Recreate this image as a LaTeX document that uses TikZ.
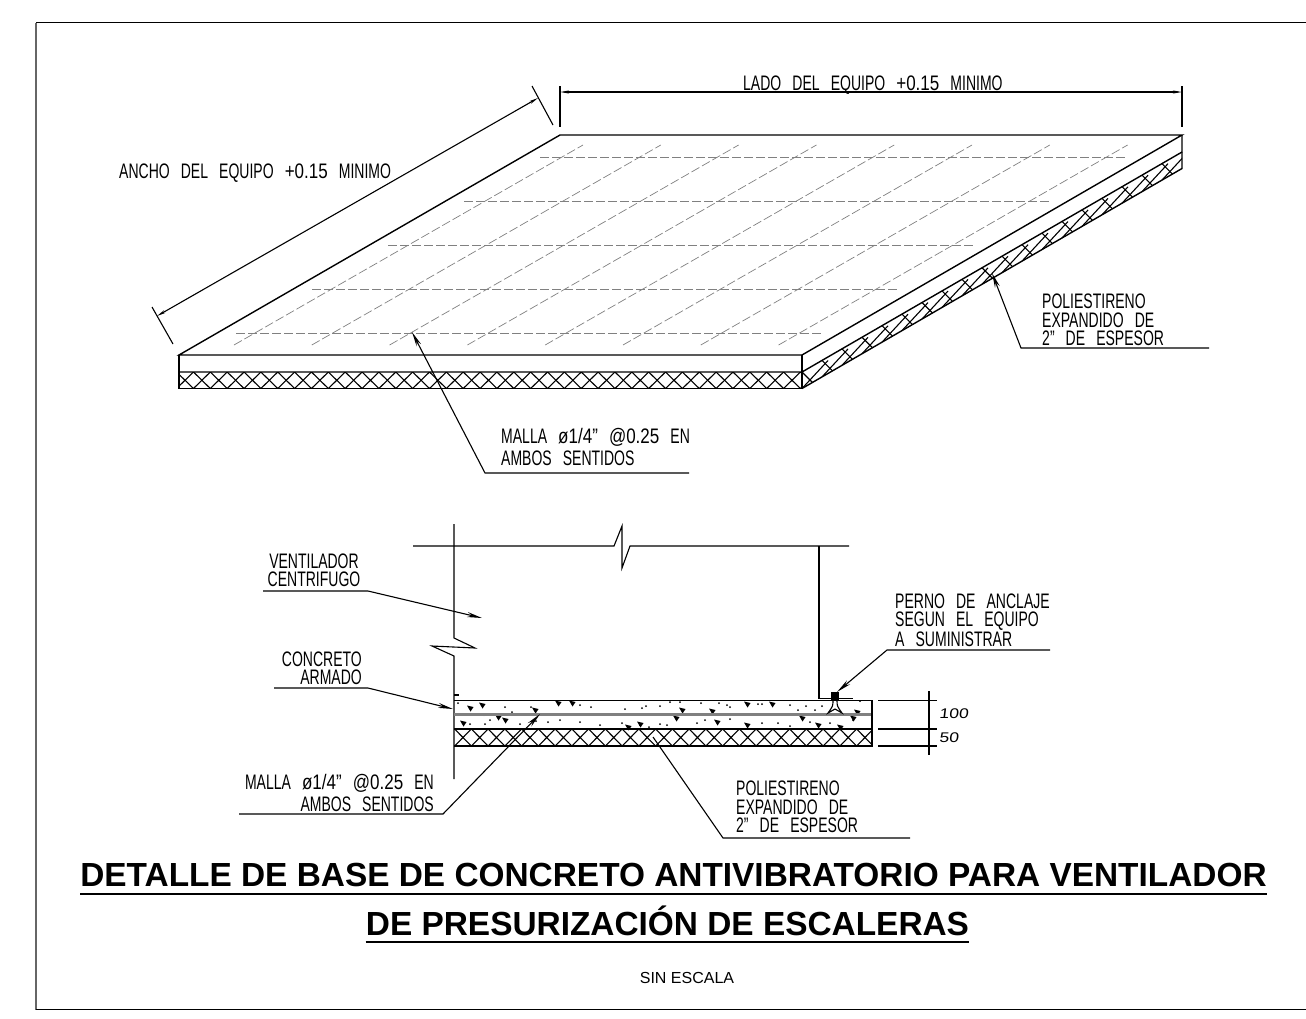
\documentclass[tikz,border=0pt]{standalone}
\usepackage{fontspec}
\setmainfont{Liberation Sans}
\newfontfamily\cadfont[FakeStretch=0.667,WordSpace=2.85]{Liberation Sans}
\newfontfamily\cadancha[FakeStretch=0.81,WordSpace=2.4]{Liberation Sans}
\newfontfamily\cotafont[FakeStretch=1.25,FakeSlant=0.12]{Liberation Sans}
\newcommand\ancha[1]{{\cadancha #1}}
\usetikzlibrary{arrows.meta}
\tikzset{
  cad/.style={font=\cadfont\fontsize{21}{18.5}\selectfont,inner sep=0pt},
  cota/.style={font=\cotafont\fontsize{14}{14}\selectfont,inner sep=0pt,anchor=base west},
  titulo/.style={font=\bfseries\fontsize{33.4}{33.4}\selectfont,inner sep=0pt,anchor=base},
  contorno/.style={line width=1.4pt},
  fina/.style={line width=1.1pt},
  malla/.style={line width=0.7pt,gray,dash pattern=on 9pt off 3pt},
  guia/.style={line width=1.1pt},
  flecha/.style={-{Stealth[length=15pt,width=5pt]}},
  flechacota/.style={{Stealth[length=9pt,width=3pt]}-{Stealth[length=9pt,width=3pt]}}
}
\begin{document}
\begin{tikzpicture}[x=1pt,y=-1pt]
  \useasboundingbox (0,0) rectangle (1306,1018);
  % marco
  \coordinate (m1) at (1306,22.5);
  \coordinate (m2) at (36,22.5);
  \coordinate (m3) at (36,1009.5);
  \coordinate (m4) at (1306,1009.5);
  \draw[contorno] (m1) -- (m2);
  \draw[contorno,gray!80!black] (m2) -- (m3);
  \draw[contorno] (m3) -- (m4);

  % losa en perspectiva
  \coordinate (a) at (560,135);
  \coordinate (b) at (1182,135);
  \coordinate (c) at (802,355);
  \coordinate (d) at (179,355);
  \coordinate (c1) at (802,372);
  \coordinate (d1) at (179,372);
  \coordinate (c2) at (802,388.5);
  \coordinate (d2) at (179,388.5);
  \coordinate (b1) at (1182,152);
  \coordinate (b2) at (1182,168.5);
  \foreach \y/\x in {157/540,201/464,245/388,289/312,333/236}
    \draw[malla] (\x,\y) -- ++(585,0);
  \foreach \i in {0,...,7}
    \draw[malla] ({234+77.8*\i},345) -- ++(349,-200);
  \begin{scope}
    \clip (d1) rectangle (c2);
    \foreach \i in {0,...,37} {
      \draw[fina] ({176.6+16.86*\i},372) -- ++(16.86,16.5);
      \draw[fina] ({176.6+16.86*\i},388.5) -- ++(16.86,-16.5);
    }
  \end{scope}
  \begin{scope}
    \clip (c1) -- (b1) -- (b2) -- (c2) -- cycle;
    \foreach \i in {0,...,19} {
      \draw[fina] ({802+20*\i},{372-11.58*\i}) -- ++(13,13);
      \draw[fina] ({802+20*\i},{388.5-11.58*\i}) -- ++(26,-28);
    }
  \end{scope}
  \draw[contorno] (a) -- (b) -- (c) -- (d) -- cycle;
  \draw[contorno] (d) -- (d2) -- (c2) -- (c);
  \draw[contorno] (d1) -- (c1) -- (b1);
  \draw[contorno] (c2) -- (b2) -- (b);

  % cotas de la losa
  \coordinate (l1) at (560,86);
  \coordinate (l2) at (560,127);
  \coordinate (l3) at (1182,86);
  \coordinate (l4) at (1182,127);
  \coordinate (l5) at (560,92);
  \coordinate (l6) at (1182,92);
  \draw[guia] (l1) -- (l2);
  \draw[guia] (l3) -- (l4);
  \draw[guia,flechacota] (l5) -- (l6);
  \coordinate (n1) at (152,307);
  \coordinate (n2) at (173,344);
  \coordinate (n3) at (532,86);
  \coordinate (n4) at (553,125);
  \coordinate (n5) at (157,316);
  \coordinate (n6) at (538,98);
  \draw[guia] (n1) -- (n2);
  \draw[guia] (n3) -- (n4);
  \draw[guia,flechacota] (n5) -- (n6);
  \node[cad,anchor=base west] (lado) at (743,90) {LADO DEL EQUIPO \ancha{+0.15} MINIMO};
  \node[cad,anchor=base west] (ancho) at (119,178) {ANCHO DEL EQUIPO \ancha{+0.15} MINIMO};

  % rotulos de la losa
  \coordinate (p1) at (1209,348);
  \coordinate (p2) at (1021,348);
  \coordinate (p3) at (992,273);
  \draw[guia,flecha] (p1) -- (p2) -- (p3);
  \node[cad,anchor=south west,align=left] (polA) at (1042,346) {POLIESTIRENO\\EXPANDIDO DE\\2” DE ESPESOR};
  \coordinate (q1) at (689,473);
  \coordinate (q2) at (485,473);
  \coordinate (q3) at (412,332);
  \draw[guia,flecha] (q1) -- (q2) -- (q3);
  \node[cad,anchor=south west,align=left] (mallaA) at (501,466) {MALLA \ancha{ø1/4”} \ancha{@0.25} EN\\[4pt]AMBOS SENTIDOS};

  % corte
  \coordinate (v1) at (454,524);
  \coordinate (v2) at (454,638);
  \coordinate (v3) at (475,648);
  \coordinate (v4) at (432,646);
  \coordinate (v5) at (454,656);
  \coordinate (v6) at (454,779);
  \draw[fina] (v1) -- (v2) -- (v3) -- (v4) -- (v5) -- (v6);
  \coordinate (h1) at (413,546);
  \coordinate (h2) at (614,546);
  \coordinate (h3) at (622,526);
  \coordinate (h4) at (622,568);
  \coordinate (h5) at (630,546);
  \coordinate (h6) at (849,546);
  \draw[fina] (h1) -- (h2) -- (h3) -- (h4) -- (h5) -- (h6);
  \coordinate (e1) at (819,546);
  \coordinate (e2) at (819,698.5);
  \coordinate (e3) at (853,698.5);
  \coordinate (t1) at (454,695);
  \coordinate (t2) at (459,695);
  \draw[fina] (e1) -- (e2) -- (e3);
  \draw[fina] (t1) -- (t2);

  % base de concreto
  \coordinate (s1) at (454,700.5);
  \coordinate (s2) at (872,700.5);
  \coordinate (s3) at (454,729);
  \coordinate (s4) at (872,729);
  \coordinate (s5) at (454,746);
  \coordinate (s6) at (872,746);
  \coordinate (g1) at (454,714.5);
  \coordinate (g2) at (872,714.5);
  \foreach \x/\y in {470/708,482/705,498/717,505/720,463/723,535/710,558/703,572/703,628/727,640/724,
    682/710,712/711,676/718,717/722,747/704,772/704,747/725,802/718,818/725,857/712,853/718,840/727}
    \fill (\x-3,\y-2.5) -- (\x+3.5,\y-1) -- (\x+0.5,\y+3.5) -- cycle;
  \foreach \x/\y in {458/703,484/715,505/707,512/712,531/707,580/705,591/707,625/709,642/708,646/706,660/706,
    670/702,680/702,701/703,719/703,727/705,730/707,758/704,762/704,790/705,806/706,822/706,815/710,798/710,
    860/701,660/724,640/725,649/727,667/725,697/723,705/720,730/719,762/723,778/723,790/726,810/722,830/723,
    853/720,485/724,490/720,520/724,536/721,548/722,580/722,600/725,622/723,560/720,470/724}
    \fill (\x,\y) circle (1);
  \draw[gray,line width=3pt] (g1) -- (g2);
  \begin{scope}
    \clip (s3) rectangle (s6);
    \foreach \i in {0,...,25} {
      \draw[fina] ({454.6+16.75*\i},729) -- ++(16.75,17);
      \draw[fina] ({454.6+16.75*\i},746) -- ++(16.75,-17);
    }
  \end{scope}
  \draw[contorno] (s1) -- (s2) -- (s6) -- (s5);
  \draw[contorno] (s3) -- (s4);

  % perno
  \coordinate (b1p) at (831,692);
  \coordinate (b2p) at (839,700);
  \fill (b1p) rectangle (b2p);
  \draw[fina] (833,700) .. controls (833,706) .. (828,713) -- (835,709) -- (842,713) .. controls (837,706) .. (837,700);

  % cotas del corte
  \coordinate (k1) at (929,691);
  \coordinate (k2) at (929,755);
  \coordinate (k3) at (878,700.5);
  \coordinate (k4) at (937,700.5);
  \coordinate (k5) at (878,729);
  \coordinate (k6) at (937,729);
  \coordinate (k7) at (878,746);
  \coordinate (k8) at (937,746);
  \draw[fina] (k1) -- (k2);
  \draw[fina] (k3) -- (k4);
  \draw[contorno] (k5) -- (k6);
  \draw[fina] (k7) -- (k8);
  \node[cota] (cota100) at (939,718) {100};
  \node[cota] (cota50) at (939,742) {50};

  % rotulos del corte
  \coordinate (r1) at (263,591);
  \coordinate (r2) at (368,591);
  \coordinate (r3) at (482,618);
  \draw[guia,flecha] (r1) -- (r2) -- (r3);
  \node[cad,anchor=south,align=center] (vent) at (314,587) {VENTILADOR\\CENTRIFUGO};
  \coordinate (u1) at (274,688);
  \coordinate (u2) at (368,688);
  \coordinate (u3) at (453,709);
  \draw[guia,flecha] (u1) -- (u2) -- (u3);
  \node[cad,anchor=south east,align=right] (conc) at (362,685) {CONCRETO\\ARMADO};
  \coordinate (w1) at (239,814);
  \coordinate (w2) at (443,814);
  \coordinate (w3) at (540,714);
  \draw[guia,flecha] (w1) -- (w2) -- (w3);
  \node[cad,anchor=south east,align=right] (mallaB) at (434,812) {MALLA \ancha{ø1/4”} \ancha{@0.25} EN\\[4pt]AMBOS SENTIDOS};
  \coordinate (z1) at (1050,650);
  \coordinate (z2) at (887,650);
  \coordinate (z3) at (837,692);
  \draw[guia,flecha] (z1) -- (z2) -- (z3);
  \node[cad,anchor=south west,align=left] (perno) at (895,647) {PERNO DE ANCLAJE\\SEGUN EL EQUIPO\\A SUMINISTRAR};
  \coordinate (f1) at (910,838);
  \coordinate (f2) at (723,838);
  \coordinate (f3) at (653,737);
  \draw[guia] (f1) -- (f2) -- (f3);
  \node[cad,anchor=south west,align=left] (polB) at (736,833) {POLIESTIRENO\\EXPANDIDO DE\\2” DE ESPESOR};

  % titulo
  \node[titulo] (tit1) at (673.5,886.5) {DETALLE DE BASE DE CONCRETO ANTIVIBRATORIO PARA VENTILADOR};
  \node[titulo] (tit2) at (667.5,935) {DE PRESURIZACIÓN DE ESCALERAS};
  \draw[line width=1.8pt] ([yshift=-7.5pt]tit1.base west) -- ([yshift=-7.5pt]tit1.base east);
  \draw[line width=1.8pt] ([yshift=-7pt]tit2.base west) -- ([yshift=-7pt]tit2.base east);
  \node[font=\fontsize{16}{16}\selectfont,inner sep=0pt,anchor=base] (esc) at (687,983) {SIN ESCALA};
\end{tikzpicture}
\end{document}
